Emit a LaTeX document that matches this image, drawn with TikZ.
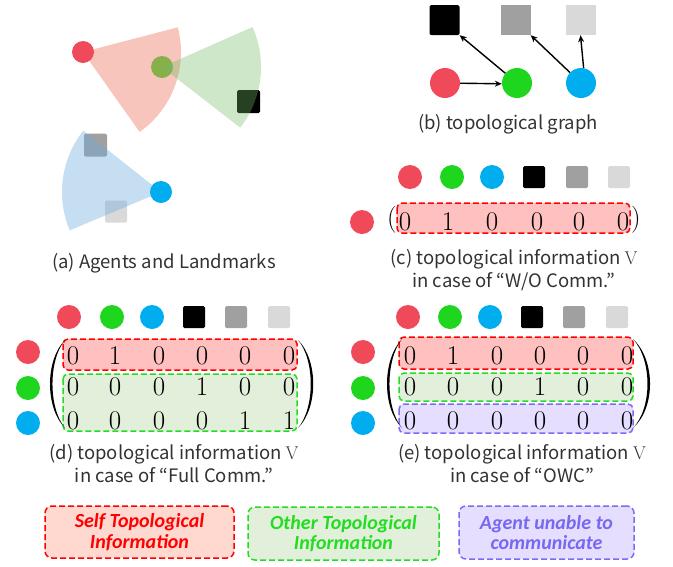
\documentclass[tikz,border=0pt]{standalone}
\usepackage{fontspec}
\newfontfamily\capfont{Noto Sans CJK JP}
\newfontfamily\legfont{Carlito}
\usetikzlibrary{arrows.meta}
\definecolor{agR}{RGB}{240,74,90}
\definecolor{agG}{RGB}{30,214,30}
\definecolor{agB}{RGB}{0,174,239}
\definecolor{lmD}{RGB}{160,160,160}
\definecolor{lmL}{RGB}{217,217,217}
\definecolor{wR}{RGB}{240,140,120}
\definecolor{wG}{RGB}{114,186,100}
\definecolor{wB}{RGB}{110,172,222}
\definecolor{boxR}{RGB}{255,192,192}
\definecolor{boxG}{RGB}{226,239,218}
\definecolor{boxP}{RGB}{230,222,255}
\definecolor{legRfill}{RGB}{255,216,208}
\definecolor{lnR}{RGB}{255,0,0}
\definecolor{lnG}{RGB}{34,221,34}
\definecolor{lnP}{RGB}{123,108,246}
\definecolor{txP}{RGB}{118,104,240}
\definecolor{capgray}{RGB}{50,50,50}
\tikzset{
  agentA/.style={circle, fill=#1, minimum size=22pt, inner sep=0pt},
  agentB/.style={circle, fill=#1, minimum size=30pt, inner sep=0pt},
  hagent/.style={circle, fill=#1, minimum size=24pt, inner sep=0pt},
  lmark/.style={rectangle, fill=#1, minimum size=22pt, inner sep=0pt, rounded corners=1.5pt},
  digit/.style={font=\fontsize{27}{27}\selectfont, inner sep=0pt},
  captext/.style={font=\capfont\fontsize{18.5}{23}\selectfont, align=center, text=capgray, inner sep=0pt},
  hlbox/.style={draw=#1, line width=1.5pt, dash pattern=on 6pt off 3pt, rounded corners=5pt},
  legbox/.style={draw=#1, line width=1.5pt, dash pattern=on 6pt off 3pt, rounded corners=7pt,
    text=#1, align=center, font=\legfont\bfseries\itshape\fontsize{20}{20.5}\selectfont, inner sep=0pt},
  arr/.style={-{Stealth[length=7pt,width=6pt]}, line width=1.4pt},
  parenfill/.style={fill=black}
}
\begin{document}
\begin{tikzpicture}[x=1pt,y=-1pt]
\useasboundingbox (0,0) rectangle (673,566);

% ---------------- (a) ----------------
\node[agentA=agG] (aG) at (162,67) {};
\node[lmark=black, minimum size=23pt] (aK) at (248.5,101.5) {};
\node[lmark=lmD, minimum size=23pt] (aD) at (95.5,145) {};
\node[lmark=lmL] (aL) at (116,211.5) {};
\fill[wR, opacity=0.5] (83,52) -- ++(14.6:98pt) arc[start angle=14.6, end angle=-54.7, radius=98pt] -- cycle;
\fill[wG, opacity=0.35] (162,67) -- ++(23.8:99pt) arc[start angle=23.8, end angle=-37.8, radius=99pt] -- cycle;
\fill[wB, opacity=0.4] (161,192) -- ++(141.7:99pt) arc[start angle=141.7, end angle=202.8, radius=99pt] -- cycle;
\node[agentA=agR] (aR) at (83,52) {};
\node[agentA=agB] (aB) at (161,192) {};
\node[captext] (capA) at (164,263) {(a) Agents and Landmarks};

% ---------------- (b) ----------------
\node[lmark=black, minimum size=30pt] (bK) at (444.5,20) {};
\node[lmark=lmD, minimum size=30pt, rounded corners=0pt] (bD) at (515.5,20) {};
\node[lmark=lmL, minimum size=30pt, rounded corners=0pt] (bL) at (580.5,20) {};
\node[agentB=agR] (bR) at (445,83) {};
\node[agentB=agG] (bG) at (517,83) {};
\node[agentB=agB] (bB) at (581,83) {};
\draw[arr] (bR) -- (bG.183);
\draw[arr] (bG) -- (bK.south east);
\draw[arr] (bB) -- (bD.south east);
\draw[arr] (bB.80) -- (bL.south);
\node[captext] (capB) at (508,124) {(b) topological graph};

% ---------------- (c) ----------------
\foreach \x/\c [count=\i] in {410/agR,452/agG,492/agB}
  \node[hagent=\c] (c-h\i) at (\x,177) {};
\foreach \x/\c [count=\i from 4] in {534/black,577/lmD,619/lmL}
  \node[lmark=\c] (c-h\i) at (\x,177) {};
\node[hagent=agR] (c-r1) at (362,222) {};
\draw[hlbox=lnR, fill=boxR] (397,203) rectangle (630,233);
\foreach \x/\d [count=\i] in {405/0,448/1,492/0,537/0,579/0,623/0}
  \node[digit] (c-d\i) at (\x,222) {\d};
\node[digit] (c-lp) at (392,220) {(};
\node[digit] (c-rp) at (636,220) {)};
\node[captext] (capC) at (514,270) {(c) topological information {\rmfamily V}\\in case of “W/O Comm.”};

% ---------------- (d) ----------------
\foreach \x/\c [count=\i] in {69/agR,112/agG,152/agB}
  \node[hagent=\c] (d-h\i) at (\x,317) {};
\foreach \x/\c [count=\i from 4] in {194/black,236/lmD,279/lmL}
  \node[lmark=\c] (d-h\i) at (\x,317) {};
\foreach \y/\c [count=\i] in {352/agR,388/agG,423/agB}
  \node[hagent=\c] (d-r\i) at (28,\y) {};
\draw[hlbox=lnR, fill=boxR] (63,339) rectangle (297,370);
\draw[hlbox=lnG, fill=boxG] (63,374) rectangle (297,431);
\foreach \y/\row [count=\j] in {356/{0,1,0,0,0,0},387/{0,0,0,1,0,0},421/{0,0,0,0,1,1}}
  \foreach \d [count=\i] in \row {
    \pgfmathsetmacro\xx{{73,115,159,202,245,289}[\i-1]}
    \node[digit] (d-\j-\i) at (\xx,\y) {\d};
  }
\fill[parenfill] (65,340) .. controls (45,360) and (45,408) .. (65,428)
   .. controls (48.3,408) and (48.3,360) .. (65,340) -- cycle;
\fill[parenfill] (298,340) .. controls (318.3,360) and (318.3,408) .. (298,428)
   .. controls (315,408) and (315,360) .. (298,340) -- cycle;
\node[captext] (capD) at (174,464) {(d) topological information {\rmfamily V}\\in case of “Full Comm.”};

% ---------------- (e) ----------------
\foreach \x/\c [count=\i] in {408/agR,450/agG,490/agB}
  \node[hagent=\c] (e-h\i) at (\x,317) {};
\foreach \x/\c [count=\i from 4] in {532/black,574/lmD,617/lmL}
  \node[lmark=\c] (e-h\i) at (\x,317) {};
\foreach \y/\c [count=\i] in {352/agR,388/agG,423/agB}
  \node[hagent=\c] (e-r\i) at (363,\y) {};
\draw[hlbox=lnR, fill=boxR] (399,337) rectangle (633,369);
\draw[hlbox=lnG, fill=boxG] (399,373) rectangle (633,401);
\draw[hlbox=lnP, fill=boxP] (399,404) rectangle (633,433);
\foreach \y/\row [count=\j] in {356/{0,1,0,0,0,0},387/{0,0,0,1,0,0},421/{0,0,0,0,0,0}}
  \foreach \d [count=\i] in \row {
    \pgfmathsetmacro\xx{{410,453,497,540,583,627}[\i-1]}
    \node[digit] (e-\j-\i) at (\xx,\y) {\d};
  }
\fill[parenfill] (402,339) .. controls (382,360) and (382,408) .. (402,428)
   .. controls (385.3,408) and (385.3,360) .. (402,339) -- cycle;
\fill[parenfill] (633,339) .. controls (655.7,360) and (655.7,408) .. (633,428)
   .. controls (652.3,408) and (652.3,360) .. (633,339) -- cycle;
\node[captext] (capE) at (522,464) {(e) topological information {\rmfamily V}\\in case of “OWC”};

% ---------------- legend ----------------
\node[legbox=lnR, fill=legRfill, minimum width=189pt, minimum height=52pt] (legS) at (139.5,532) {Self Topological\\Information};
\node[legbox=lnG, fill=boxG, minimum width=191pt, minimum height=53pt] (legO) at (343.5,533.5) {Other Topological\\Information};
\node[legbox=lnP, fill=boxP, minimum width=175pt, minimum height=53pt, text=txP] (legA) at (546.5,532.5) {Agent unable to\\communicate};
\end{tikzpicture}
\end{document}
